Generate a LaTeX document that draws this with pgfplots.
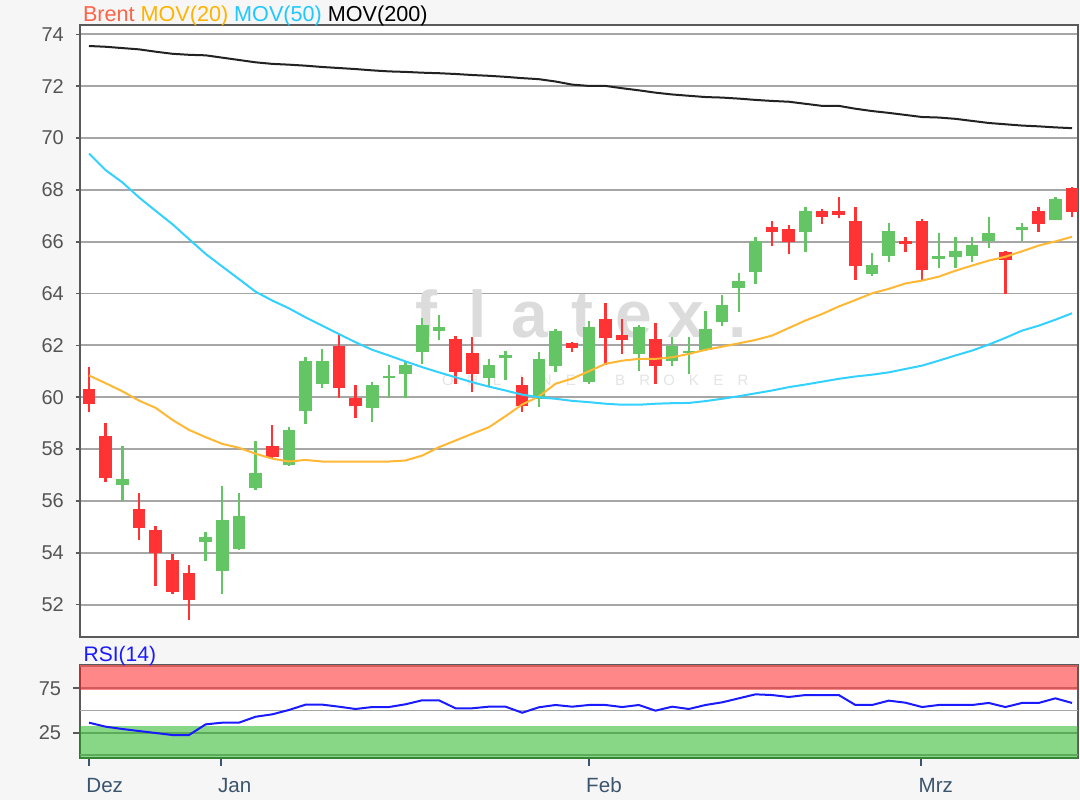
\documentclass[border=0pt]{standalone}
\usepackage{fontspec}
\setmainfont{Liberation Sans}
\usepackage{pgfplots}
\usepackage{pgfplotstable}
\pgfplotsset{compat=1.18}
\definecolor{bgc}{HTML}{F6F6F6}
\definecolor{candred}{HTML}{FF3333}
\definecolor{candgreen}{HTML}{63C563}
\definecolor{maorange}{HTML}{FFB833}
\definecolor{macyan}{HTML}{33D1FF}
\definecolor{mablack}{HTML}{222222}
\definecolor{gridgray}{HTML}{A6A6A6}
\definecolor{framegray}{HTML}{5A5A5A}
\definecolor{labelgray}{HTML}{555555}
\definecolor{xlab}{HTML}{3B556E}
\definecolor{legred}{HTML}{FF6347}
\definecolor{legorange}{HTML}{FFB300}
\definecolor{legcyan}{HTML}{1FC8FF}
\definecolor{rsiblue}{HTML}{1A1AFF}
\definecolor{bandred}{HTML}{FF1111}
\definecolor{bandgreen}{HTML}{11B111}
\definecolor{wm}{HTML}{DCDCDC}
\definecolor{wm2}{HTML}{E4E4E4}

\pgfplotstableread{
i o h l c
2 56.60 58.10 55.98 56.86
7 54.41 54.80 53.67 54.60
8 53.28 56.56 52.42 55.25
9 54.16 56.32 54.09 55.40
10 56.51 58.33 56.43 57.09
12 57.37 58.84 57.34 58.72
13 59.45 61.54 58.97 61.39
14 60.52 61.87 60.36 61.39
17 59.59 60.58 59.06 60.48
18 60.74 61.26 59.98 60.82
19 60.90 61.38 59.98 61.26
20 61.73 63.04 61.29 62.79
21 62.54 63.18 62.21 62.72
24 60.75 61.48 60.39 61.26
25 61.53 61.77 60.67 61.62
27 59.94 61.73 59.64 61.48
28 61.22 62.64 60.96 62.57
30 60.58 62.93 60.52 62.72
33 61.67 62.79 61.03 62.72
35 61.38 62.31 61.22 61.99
36 61.69 62.31 60.90 61.77
37 61.84 63.34 61.80 62.64
38 62.89 63.96 62.74 63.56
39 64.22 64.79 63.30 64.50
40 64.84 66.19 64.37 66.01
43 66.36 67.35 65.59 67.19
47 64.76 65.56 64.66 65.10
48 65.46 66.71 65.20 66.42
51 65.35 66.34 64.97 65.43
52 65.40 66.17 64.99 65.65
53 65.46 66.17 65.20 65.87
54 66.04 66.96 65.76 66.34
56 66.46 66.72 66.01 66.55
58 66.84 67.73 66.84 67.65
}\greentab

\pgfplotstableread{
i o h l c
0 60.32 61.18 59.42 59.75
1 58.49 59.01 56.72 56.89
3 55.70 56.32 54.50 54.97
4 54.86 55.02 52.72 53.99
5 53.71 53.97 52.42 52.49
6 53.23 53.54 51.42 52.19
11 58.10 58.94 57.65 57.71
15 61.99 62.44 59.98 60.36
16 59.98 60.48 59.19 59.65
22 62.25 62.35 60.52 60.96
23 61.71 62.34 60.19 60.90
26 60.48 60.77 59.42 59.68
29 62.10 62.12 61.73 61.90
31 63.02 63.64 61.26 62.27
32 62.42 63.02 61.67 62.22
34 62.25 62.87 60.52 61.22
41 66.55 66.81 65.82 66.36
42 66.49 66.66 65.53 65.97
44 67.19 67.26 66.68 66.94
45 67.17 67.73 66.91 67.04
46 66.81 67.35 64.52 65.05
49 66.01 66.19 65.59 65.91
50 66.81 66.87 64.50 64.91
55 65.59 65.65 63.98 65.31
57 67.17 67.35 66.36 66.68
59 68.07 68.12 66.96 67.13
}\redtab

\pgfplotstableread{
i m20 m50 m200 rsi
0 60.84 69.40 73.55 36.3
1 60.54 68.76 73.52 31.8
2 60.23 68.29 73.47 29.2
3 59.87 67.71 73.42 26.9
4 59.59 67.19 73.33 24.7
5 59.13 66.68 73.25 22.4
6 58.74 66.10 73.21 22.4
7 58.46 65.53 73.19 34.4
8 58.20 65.04 73.10 36.3
9 58.05 64.56 73.01 36.3
10 57.82 64.07 72.92 43.0
11 57.63 63.73 72.86 45.7
12 57.52 63.43 72.83 50.6
13 57.58 63.08 72.79 56.6
14 57.52 62.76 72.74 56.6
15 57.52 62.44 72.70 54.3
16 57.52 62.12 72.66 51.7
17 57.52 61.83 72.61 53.9
18 57.52 61.61 72.57 53.9
19 57.56 61.38 72.55 57.0
20 57.75 61.16 72.52 61.5
21 58.07 60.96 72.50 61.5
22 58.33 60.77 72.47 52.5
23 58.59 60.58 72.43 52.5
24 58.84 60.41 72.40 54.3
25 59.27 60.26 72.36 54.3
26 59.72 60.10 72.31 47.5
27 60.03 60.00 72.27 53.6
28 60.52 59.94 72.18 56.2
29 60.72 59.86 72.06 54.3
30 61.00 59.81 72.01 56.2
31 61.29 59.75 72.01 56.2
32 61.41 59.71 71.92 53.9
33 61.48 59.71 71.84 56.2
34 61.48 59.75 71.75 49.8
35 61.54 59.77 71.68 54.3
36 61.67 59.78 71.63 51.7
37 61.83 59.85 71.58 56.2
38 61.95 59.94 71.56 59.2
39 62.08 60.04 71.52 63.7
40 62.21 60.15 71.47 68.2
41 62.38 60.26 71.43 67.4
42 62.67 60.39 71.40 65.2
43 62.96 60.49 71.32 67.4
44 63.21 60.60 71.24 67.4
45 63.50 60.71 71.24 67.4
46 63.75 60.80 71.13 56.2
47 64.01 60.87 71.04 56.2
48 64.18 60.96 70.97 61.1
49 64.39 61.09 70.89 58.8
50 64.50 61.22 70.81 53.9
51 64.65 61.41 70.79 56.2
52 64.88 61.61 70.74 56.2
53 65.08 61.80 70.66 56.2
54 65.27 62.03 70.58 58.5
55 65.42 62.29 70.53 53.9
56 65.63 62.57 70.48 58.5
57 65.85 62.76 70.45 58.5
58 66.01 62.99 70.41 63.7
59 66.19 63.24 70.38 58.5
}\linetab

\newcommand\wmc[1]{\makebox[26pt][c]{#1}}
\newcommand\wms[1]{\makebox[12.3pt][c]{#1}}

\pgfplotsset{
  candle/.style 2 args={only marks, mark=*, mark options={draw=none, fill=none}, mark size=0pt,
    error bars/.cd, y dir=plus, y explicit, error mark=none,
    error bar style={line width=#2, #1}},
}

\begin{document}
\begin{tikzpicture}
\path[use as bounding box] (0,0) rectangle (540pt,400pt);
\fill[bgc] (0,0) rectangle (540pt,400pt);

\begin{axis}[
  at={(40pt,81.5pt)}, anchor=south west, scale only axis,
  width=499pt, height=306pt,
  xmin=-0.54, xmax=59.36, ymin=50.75, ymax=74.36,
  xtick=\empty,
  ytick={52,54,...,74},
  ymajorgrids, grid style={line width=0.9pt, gridgray},
  axis line style={line width=1pt, framegray},
  ytick align=outside, ytick pos=left,
  major tick length=2.2pt,
  y tick style={line width=0.8pt, framegray},
  yticklabel style={font=\fontsize{10}{12}\selectfont, text=labelgray, anchor=east, inner sep=0pt, xshift=-5.7pt},
  /pgf/number format/assume math mode=true,
  axis background/.style={fill=white},
]
\node[anchor=base, text=wm, font=\bfseries\fontsize{33}{33}\selectfont] at (axis cs:29.6,62.3)
  {\wmc{f}\wmc{l}\wmc{a}\wmc{t}\wmc{e}\wmc{x}\wmc{.}};
\node[anchor=base, text=wm2, font=\fontsize{7.5}{8}\selectfont] at (axis cs:30.4,60.45)
  {\wms{O}\wms{N}\wms{L}\wms{I}\wms{N}\wms{E}\wms{ }\wms{B}\wms{R}\wms{O}\wms{K}\wms{E}\wms{R}};

\addplot[candle={candgreen}{1.2pt}] table[x=i, y=l, y error expr=\thisrow{h}-\thisrow{l}] {\greentab};
\addplot[candle={candred}{1.2pt}] table[x=i, y=l, y error expr=\thisrow{h}-\thisrow{l}] {\redtab};
\addplot[candle={candgreen}{6.3pt}] table[x=i, y=o, y error expr=\thisrow{c}-\thisrow{o}] {\greentab};
\addplot[candle={candred}{6.3pt}] table[x=i, y=c, y error expr=\thisrow{o}-\thisrow{c}] {\redtab};

\addplot[maorange, line width=1pt, mark=none] table[x=i, y=m20] {\linetab};
\addplot[macyan, line width=1pt, mark=none] table[x=i, y=m50] {\linetab};
\addplot[mablack, line width=1pt, mark=none] table[x=i, y=m200] {\linetab};
\end{axis}

\node[anchor=base west, inner sep=0pt, font=\fontsize{10.8}{12}\selectfont] at (41.3pt,389.35pt)
  {\textcolor{legred}{Brent} \textcolor{legorange}{MOV(20)} \textcolor{legcyan}{MOV(50)} \textcolor{black}{MOV(200)}};

\begin{axis}[
  at={(40pt,20.85pt)}, anchor=south west, scale only axis,
  width=499pt, height=46.65pt,
  xmin=-0.54, xmax=59.36, ymin=-3.8, ymax=101.2,
  xtick={0,7.9,30,49.95}, xticklabels={Dez,Jan,Feb,Mrz},
  ytick={25,75},
  extra y ticks={0,50,100}, extra y tick labels={},
  extra y tick style={tick style={draw=none}},
  ymajorgrids, grid style={line width=0.9pt, gridgray},
  axis line style={line width=1pt, framegray},
  tick align=outside, xtick pos=bottom, ytick pos=left,
  major tick length=3.6pt,
  x tick style={line width=0.9pt, xlab},
  y tick style={line width=0.8pt, framegray},
  xticklabel style={font=\fontsize{10.3}{12}\selectfont, text=xlab, anchor=base west, inner sep=0pt, xshift=-1.5pt, yshift=-13.3pt},
  yticklabel style={font=\fontsize{10}{12}\selectfont, text=labelgray, anchor=east, inner sep=0pt, xshift=-5.7pt},
  /pgf/number format/assume math mode=true,
  axis background/.style={fill=white},
]
\addplot[fill=bandred, fill opacity=0.5, draw=none] coordinates {(-1,73.1) (61,73.1) (61,110) (-1,110)} -- cycle;
\addplot[fill=bandgreen, fill opacity=0.5, draw=none] coordinates {(-1,-10) (61,-10) (61,32.5) (-1,32.5)} -- cycle;
\addplot[rsiblue, line width=1pt, mark=none] table[x=i, y=rsi] {\linetab};
\end{axis}

\node[anchor=base west, inner sep=0pt, text=rsiblue, font=\fontsize{10.5}{12}\selectfont] at (41.65pt,69.15pt) {RSI(14)};
\end{tikzpicture}
\end{document}
